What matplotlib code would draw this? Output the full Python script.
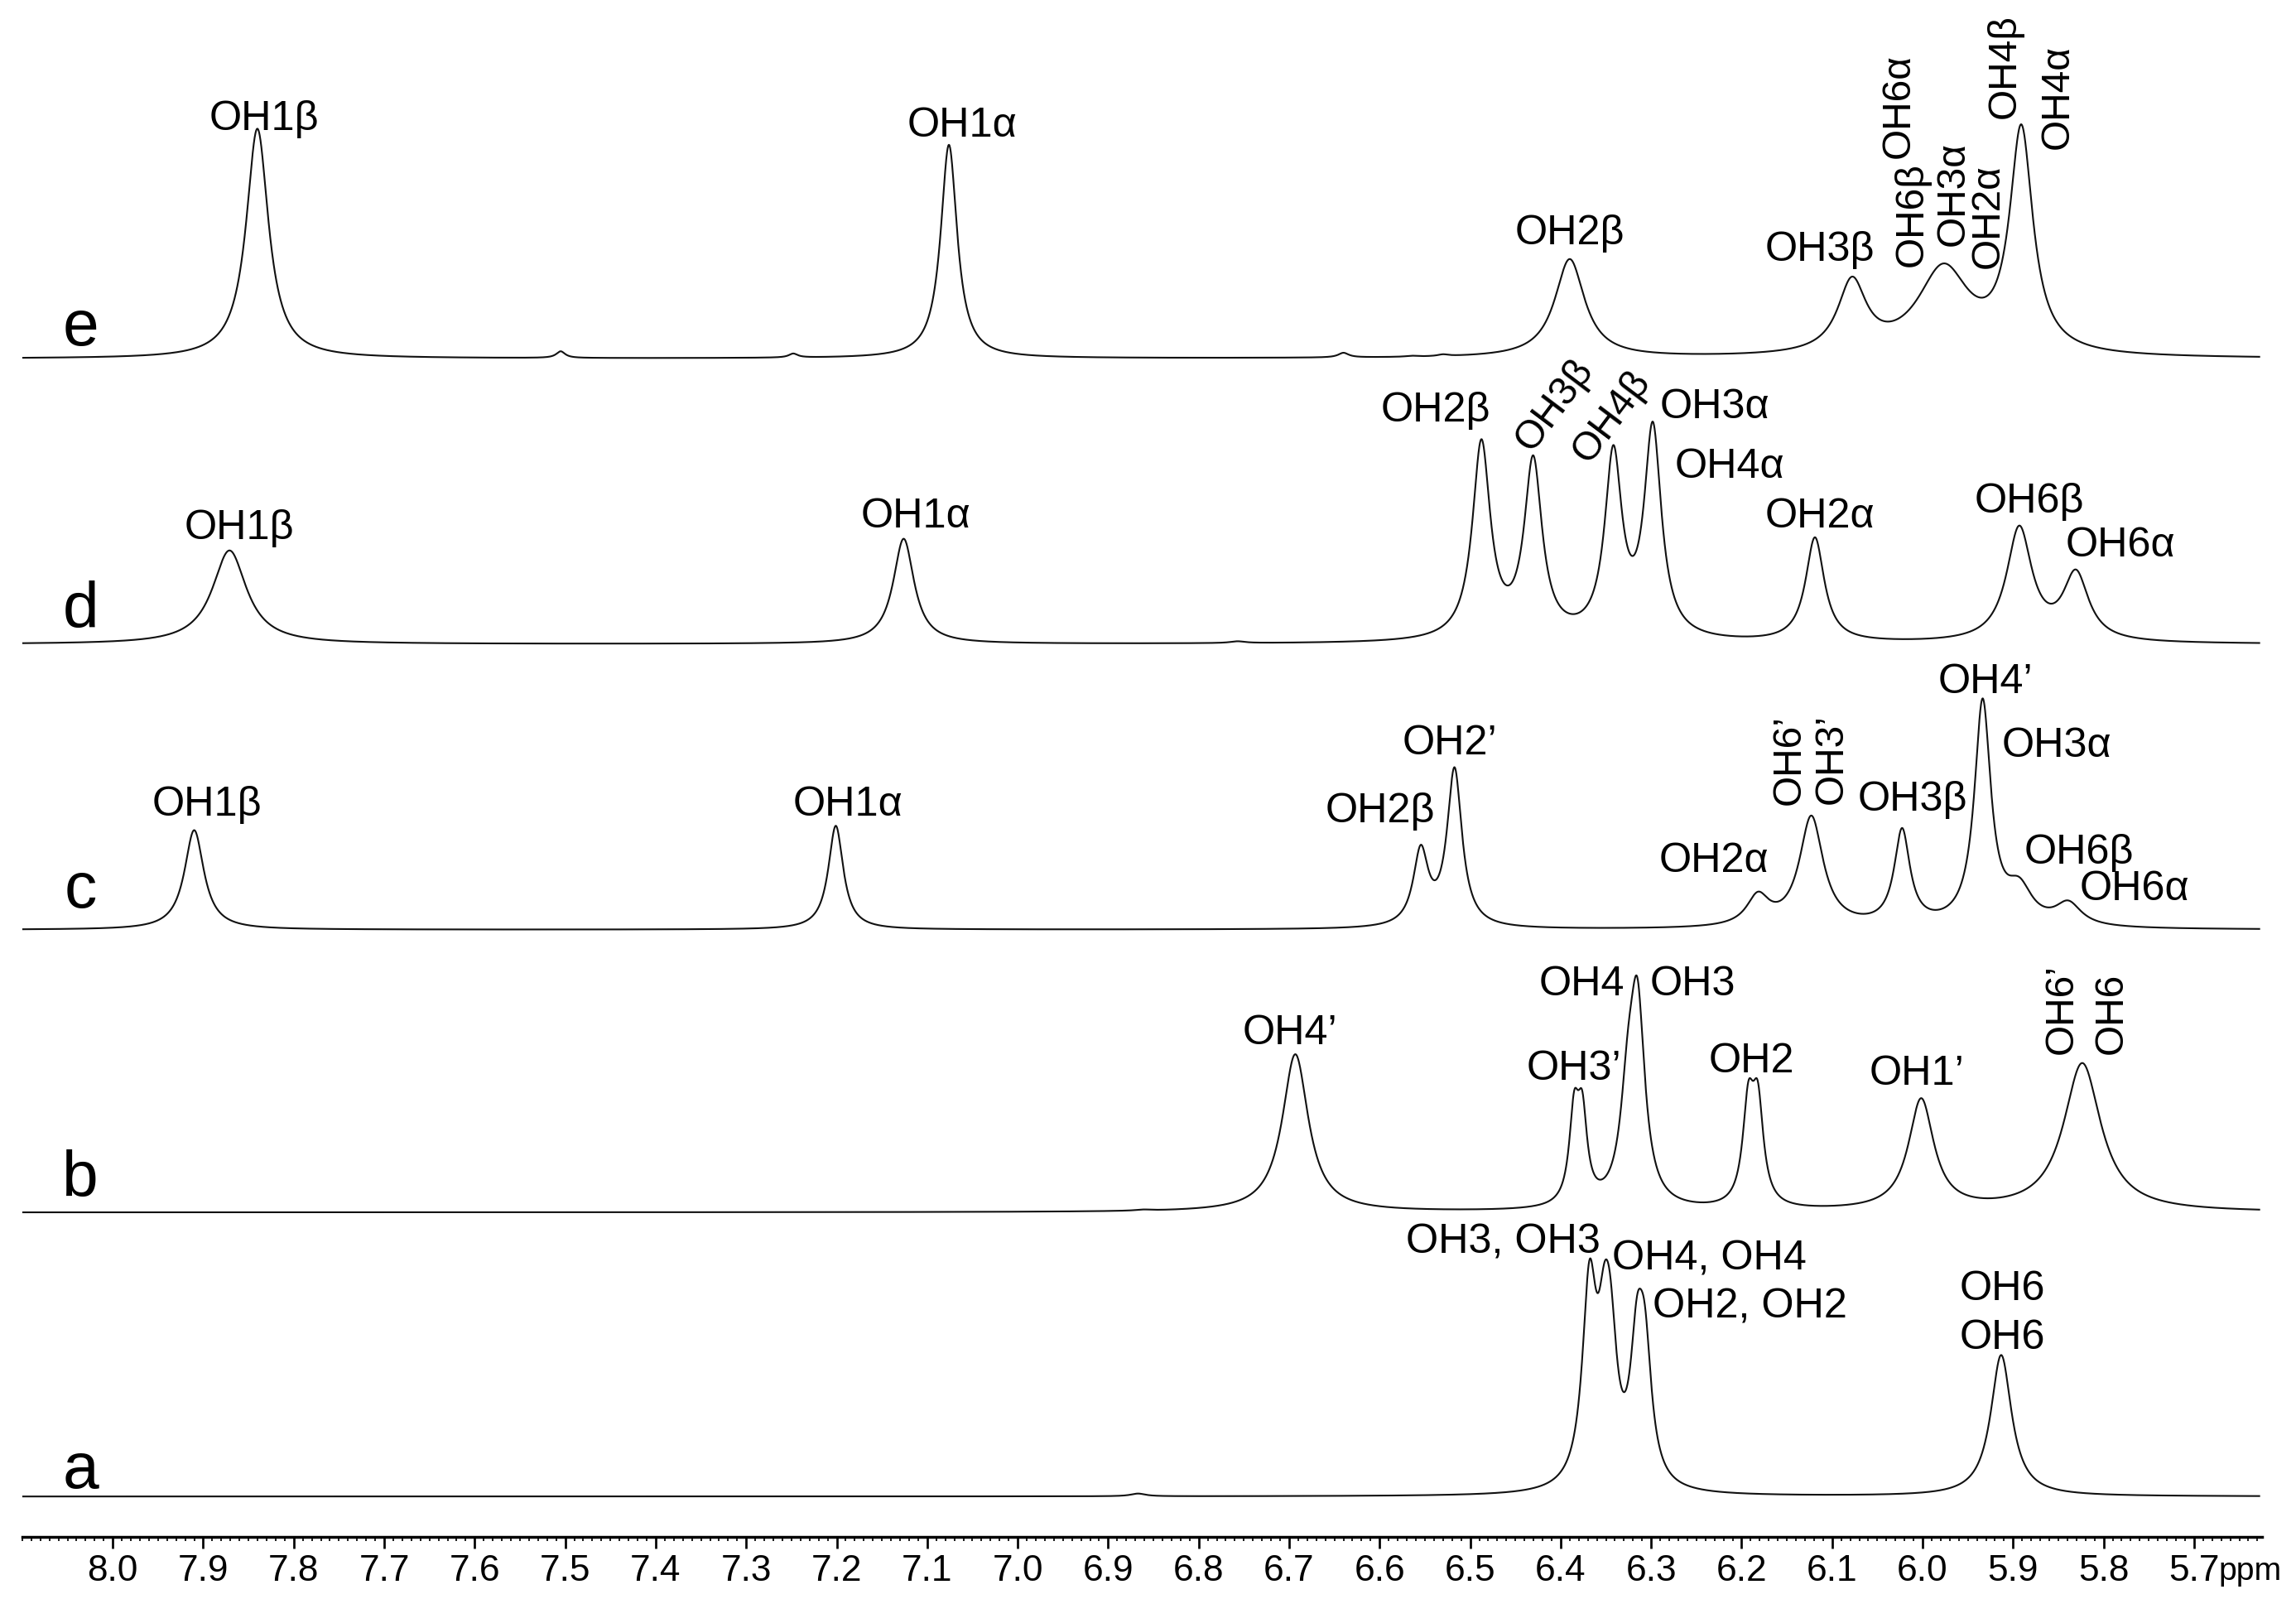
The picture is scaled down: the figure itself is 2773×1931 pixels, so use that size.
import numpy as np
import matplotlib
matplotlib.use("Agg")
import matplotlib.pyplot as plt
from matplotlib.ticker import FixedLocator, MultipleLocator

plt.rcParams['font.family'] = ['Liberation Sans', 'DejaVu Sans']

# peak tables: centre (ppm), apex height (a.u.), line width (ppm)
e_ppm = [7.8402, 7.505, 7.248, 7.076, 6.640, 6.565, 6.530, 6.390, 6.078, 5.977, 5.891]
e_height = [157, 5, 3.5, 146, 4, 2, 3, 68, 56, 65, 160]
e_width = [0.030, 0.012, 0.012, 0.022, 0.014, 0.014, 0.014, 0.040, 0.038, 0.070, 0.031]

d_ppm = [7.871, 7.126, 6.757, 6.4876, 6.4304, 6.3418, 6.2982, 6.119, 5.8932, 5.8306]
d_height = [64, 72, 2, 140, 129, 136, 152, 73, 81, 51]
d_width = [0.046, 0.028, 0.020, 0.024, 0.024, 0.023, 0.023, 0.025, 0.034, 0.034]

c_ppm = [7.910, 7.201, 6.5546, 6.5173, 6.182, 6.123, 6.0227, 5.9337, 5.8932, 5.839]
c_height = [68, 71, 58, 111, 26, 78, 69.5, 158, 36, 20]
c_width = [0.026, 0.020, 0.020, 0.020, 0.030, 0.032, 0.021, 0.022, 0.035, 0.035]

b_ppm = [6.861, 6.6932, 6.3851, 6.3761, 6.3257, 6.3151, 6.1926, 6.1821, 6.0016, 5.8236]
b_height = [2, 108, 83, 83, 124.5, 160, 89.5, 89.5, 78, 102]
b_width = [0.020, 0.035, 0.013, 0.013, 0.020, 0.020, 0.015, 0.015, 0.034, 0.050]

a_ppm = [6.867, 6.3682, 6.3518, 6.3449, 6.3156, 6.3068, 5.9132]
a_height = [2, 161.5, 159.5, 149, 137, 130, 96.6]
a_width = [0.020, 0.019, 0.018, 0.018, 0.018, 0.018, 0.028]

ppm_ticks = [8.0, 7.9, 7.8, 7.7, 7.6, 7.5, 7.4, 7.3, 7.2, 7.1, 7.0, 6.9,
             6.8, 6.7, 6.6, 6.5, 6.4, 6.3, 6.2, 6.1, 6.0, 5.9, 5.8, 5.7]

# assignments: (text, ppm, y, rotation)
e_labels = [('OH1β', 7.8324, 88.6, 0), ('OH1α', 7.0615, 93.3, 0), ('OH2β', 6.3900, 167, 0),
            ('OH3β', 6.1133, 178, 0), ('OH6β', 6.0000, 182, 90), ('OH6α', 6.0146, 108, 90),
            ('OH3α', 5.9547, 168, 90), ('OH2α', 5.9159, 183, 90), ('OH4β', 5.8981, 81, 90),
            ('OH4α', 5.8390, 102, 90)]
d_labels = [('OH1β', 7.8605, 368.3, 0), ('OH1α', 7.1123, 360, 0), ('OH2β', 6.5379, 288, 0),
            ('OH3β', 6.4325, 309.4, 53), ('OH4β', 6.3694, 317, 53), ('OH3α', 6.2298, 285.4, 0),
            ('OH4α', 6.2136, 326, 0), ('OH2α', 6.1138, 360, 0), ('OH6β', 5.8825, 350, 0),
            ('OH6α', 5.7815, 380, 0)]
c_labels = [('OH1β', 7.8956, 557, 0), ('OH1α', 7.1877, 557, 0), ('OH2β', 6.5992, 561.7, 0),
            ('OH2’', 6.5227, 515.4, 0), ('OH2α', 6.2306, 595.6, 0), ('OH6’', 6.1360, 549.8, 90),
            ('OH3’', 6.0891, 548.9, 90), ('OH3β', 6.0114, 553.8, 0), ('OH4’', 5.9305, 473, 0),
            ('OH3α', 5.8516, 517, 0), ('OH6β', 5.8269, 590, 0), ('OH6α', 5.7662, 614.6, 0)]
b_labels = [('OH4’', 6.6990, 713.3, 0), ('OH3’', 6.3851, 737.6, 0), ('OH4', 6.3770, 679.4, 0),
            ('OH3', 6.2540, 679.4, 0), ('OH2', 6.1893, 732, 0), ('OH1’', 6.0065, 740.5, 0),
            ('OH6’', 5.8350, 720, 90), ('OH6', 5.7796, 720, 90)]
a_labels = [('OH3, OH3', 6.3560, 856, 'r'), ('OH4, OH4', 6.2355, 867, 0), ('OH2, OH2', 6.1909, 899.7, 0),
            ('OH6', 5.9117, 887.5, 0), ('OH6', 5.9117, 921, 0)]

# stacking: name, peaks, labels, baseline and letter baseline (canvas px, 1568x1092)
spectra = [
    ('e', e_ppm, e_height, e_width, e_labels, 245, 236),
    ('d', d_ppm, d_height, d_width, d_labels, 440, 428.6),
    ('c', c_ppm, c_height, c_width, c_labels, 635, 620),
    ('b', b_ppm, b_height, b_width, b_labels, 828, 817),
    ('a', a_ppm, a_height, a_width, a_labels, 1022, 1016),
]


def lorentz(x, c, w):
    return 1.0 / (1.0 + ((x - c) / (w / 2.0)) ** 2)


def spectrum(x, ppm, height, width):
    ppm = np.asarray(ppm, float)
    width = np.asarray(width, float)
    m = lorentz(ppm[:, None], ppm[None, :], width[None, :])
    amp = np.linalg.solve(m, np.asarray(height, float))
    return (amp[None, :] * lorentz(x[:, None], ppm[None, :], width[None, :])).sum(axis=1)


fig = plt.figure(figsize=(15.68, 10.92), dpi=176.85)
ax = fig.add_axes([0, 0, 1, 1])
ax.set_xlim(8.1246, 5.5874)
ax.set_ylim(1092, 0)
ax.axis('off')

x = np.linspace(8.099, 5.628, 8000)
for name, ppm, height, width, labels, base, letter_y in spectra:
    ax.plot(x, base - spectrum(x, ppm, height, width), color='#111111', lw=0.85)
    ax.text(8.0356, letter_y, name, fontsize=32, ha='center', va='baseline')
    for text, px, py, rot in labels:
        if rot == 0:
            ax.text(px, py, text, fontsize=20.5, ha='center', va='baseline')
        elif rot == 'r':
            ax.text(px, py, text, fontsize=20.5, ha='right', va='baseline')
        else:
            ax.text(px, py, text, fontsize=19.5, ha='left', va='baseline',
                    rotation=rot, rotation_mode='anchor')

ax.text(5.6732, 1079, 'ppm', fontsize=16, ha='left', va='baseline')

# chemical shift scale
x0 = 15.2 / 1568
x1 = 1544.75 / 1568
sax = fig.add_axes([x0, 1 - 1049.5 / 1092, x1 - x0, 0.01])
sax.set_xlim(8.10, 5.625)
sax.patch.set_visible(False)
for s in ['left', 'right', 'top']:
    sax.spines[s].set_visible(False)
sax.spines['bottom'].set_linewidth(1.4)
sax.set_yticks([])
sax.xaxis.set_major_locator(FixedLocator(ppm_ticks))
sax.xaxis.set_minor_locator(MultipleLocator(0.01))
sax.set_xticklabels(['%.1f' % t for t in ppm_ticks])
sax.tick_params(axis='x', which='major', direction='out', length=5.5, width=1.1,
                labelsize=18, pad=3)
sax.tick_params(axis='x', which='minor', direction='out', length=2.2, width=0.7)

fig.savefig('out.png', dpi=176.85)
